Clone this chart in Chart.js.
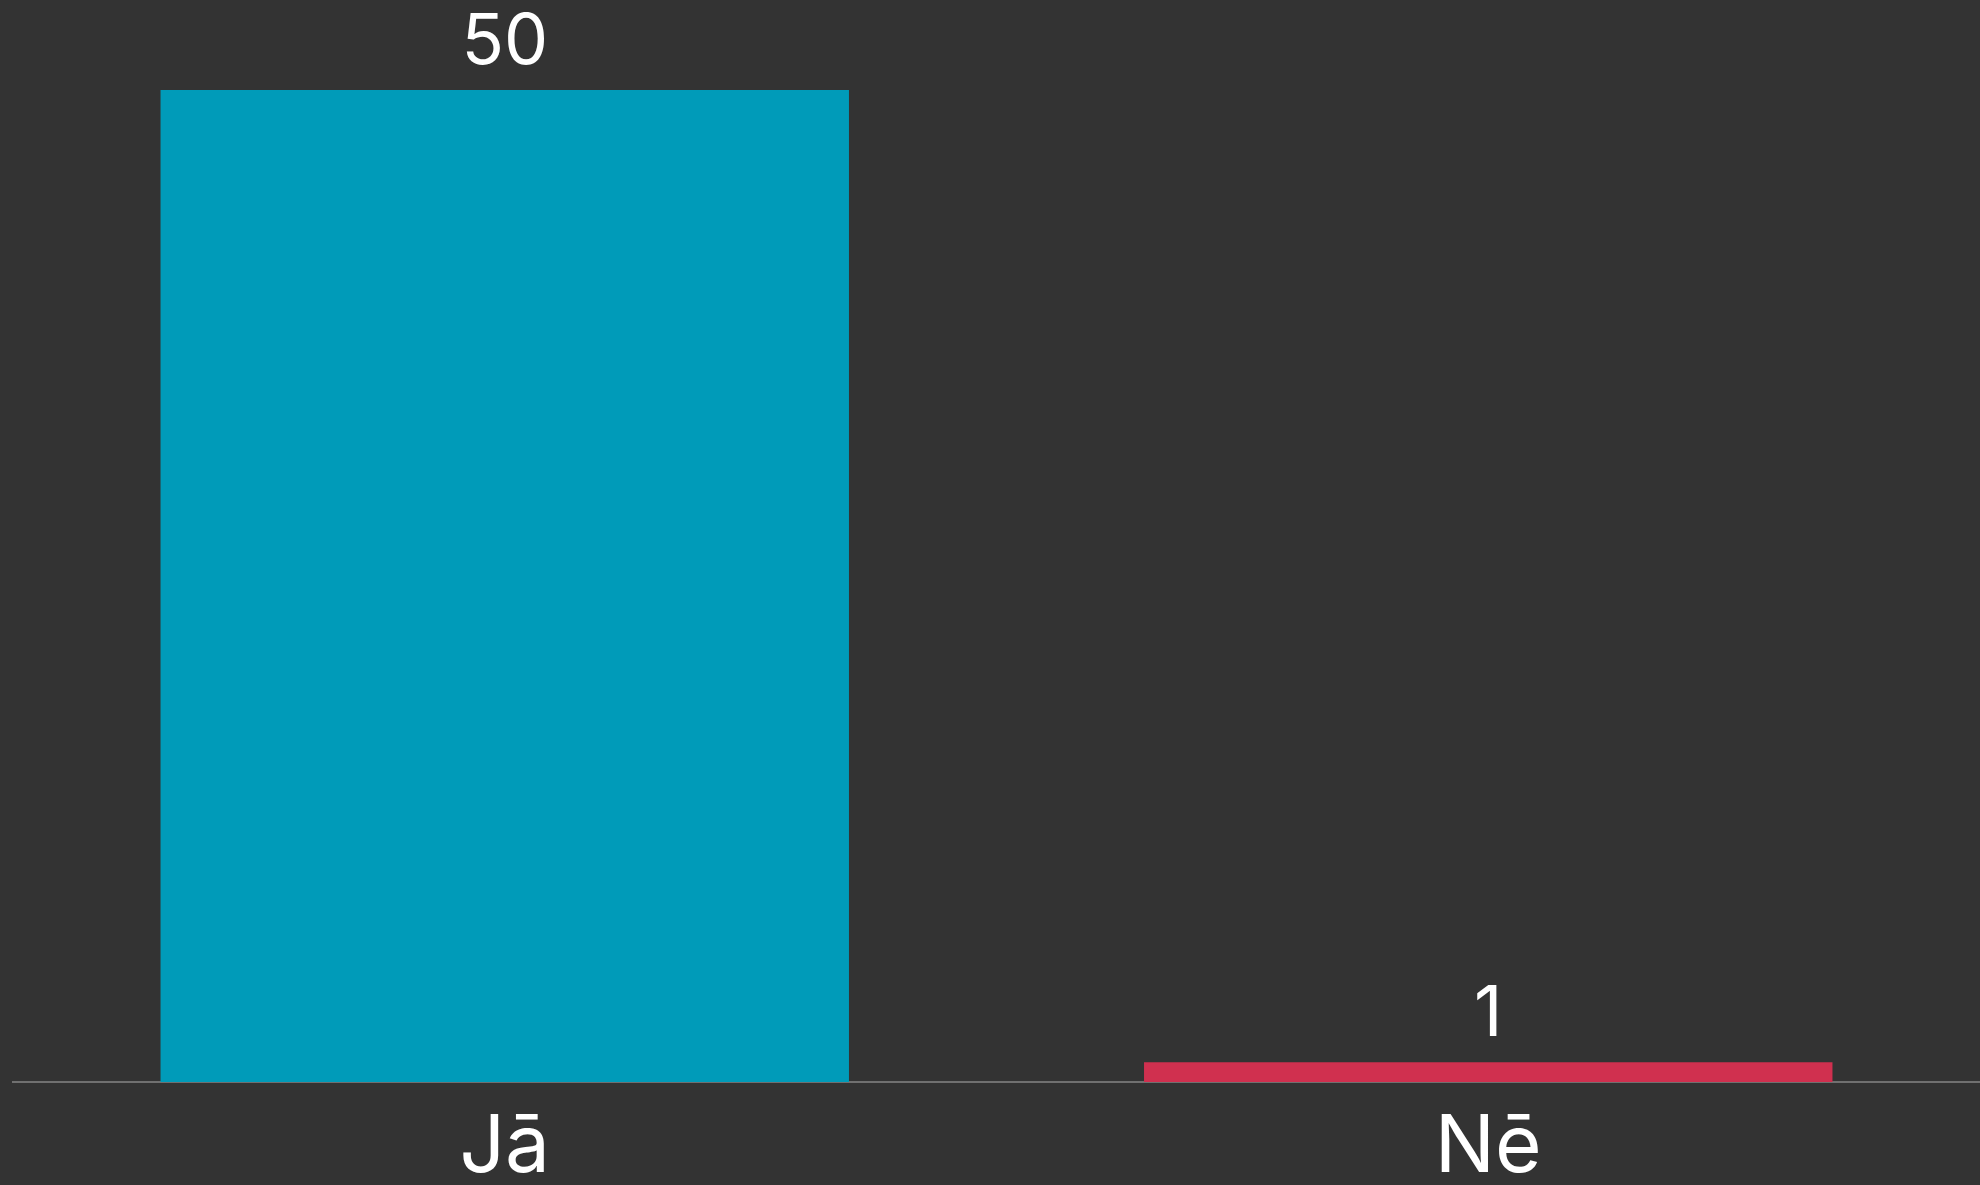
<!DOCTYPE html>
<html>
<head>
<meta charset="utf-8">
<script src="https://cdn.jsdelivr.net/npm/chart.js@4/dist/chart.umd.min.js"></script>
<style>
  html, body { margin: 0; padding: 0; background: #333333; }
  #wrap { width: 1980px; height: 1185px; position: relative; }
</style>
</head>
<body>
<div id="wrap"><canvas id="c"></canvas></div>
<script>
const categories = ["Jā", "Nē"];
const values = [50, 1];
const barColors = ["#009bb9", "#d0304f"];

const FONT = "Inter, 'Open Sans', sans-serif";

const valueLabels = {
  id: 'valueLabels',
  afterDatasetsDraw(chart) {
    const ctx = chart.ctx;
    const meta = chart.getDatasetMeta(0);
    ctx.save();
    ctx.fillStyle = '#ffffff';
    ctx.font = '70px ' + FONT;
    ctx.textAlign = 'center';
    ctx.textBaseline = 'alphabetic';
    meta.data.forEach((bar, i) => {
      ctx.fillText(String(values[i]), bar.x, bar.y - 26);
    });
    ctx.restore();
  }
};

new Chart(document.getElementById('c'), {
  type: 'bar',
  data: {
    labels: categories,
    datasets: [{
      data: values,
      backgroundColor: barColors,
      borderWidth: 0,
      categoryPercentage: 1.0,
      barPercentage: 0.7
    }]
  },
  options: {
    responsive: true,
    maintainAspectRatio: false,
    animation: false,
    layout: { padding: { left: 13, right: 0, top: 90, bottom: 0 } },
    plugins: { legend: { display: false }, tooltip: { enabled: false } },
    scales: {
      x: {
        afterFit(scale) { scale.height = 103; },
        grid: { display: false, drawTicks: false },
        border: { display: true, color: 'rgba(255,255,255,0.3)', width: 2 },
        ticks: {
          color: '#ffffff',
          padding: 26,
          font: { family: FONT, size: 80, lineHeight: 1.0 }
        }
      },
      y: {
        display: false,
        min: 0,
        max: 50
      }
    }
  },
  plugins: [valueLabels]
});
</script>
</body>
</html>
